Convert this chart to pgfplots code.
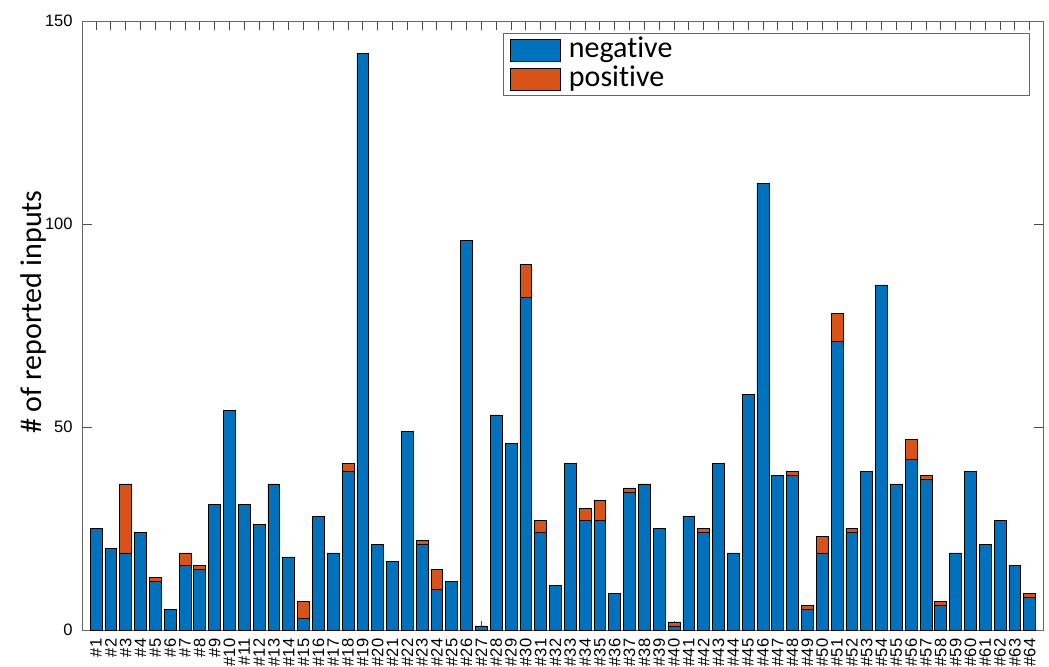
\documentclass[border=0pt]{standalone}
\usepackage{fontspec}
\setmainfont{Liberation Sans}
\newfontfamily\calib[Ligatures=NoCommon]{Carlito}
\usepackage{pgfplots}
\usepackage{pgfplotstable}
\pgfplotsset{compat=1.18}
\definecolor{mblue}{rgb}{0,0.447,0.741}
\definecolor{morange}{rgb}{0.85,0.325,0.098}

\pgfplotstableread{
x neg pos
1 25 0
2 20 0
3 19 17
4 24 0
5 12 1
6 5 0
7 16 3
8 15 1
9 31 0
10 54 0
11 31 0
12 26 0
13 36 0
14 18 0
15 3 4
16 28 0
17 19 0
18 39 2
19 142 0
20 21 0
21 17 0
22 49 0
23 21 1
24 10 5
25 12 0
26 96 0
27 1 0
28 53 0
29 46 0
30 82 8
31 24 3
32 11 0
33 41 0
34 27 3
35 27 5
36 9 0
37 34 1
38 36 0
39 25 0
40 1 1
41 28 0
42 24 1
43 41 0
44 19 0
45 58 0
46 110 0
47 38 0
48 38 1
49 5 1
50 19 4
51 71 7
52 24 1
53 39 0
54 85 0
55 36 0
56 42 5
57 37 1
58 6 1
59 19 0
60 39 0
61 21 0
62 27 0
63 16 0
64 8 1
}\datatable

\begin{document}
\begin{tikzpicture}
\begin{axis}[
  at={(0,0)}, anchor=south west,
  scale only axis, width=720.2pt, height=456.75pt,
  ybar stacked, bar width=0.8,
  xmin=0.1, xmax=64.9, ymin=0, ymax=150,
  xtick={1,...,64},
  xticklabels={\#1,\#2,\#3,\#4,\#5,\#6,\#7,\#8,\#9,\#10,\#11,\#12,\#13,\#14,\#15,\#16,\#17,\#18,\#19,\#20,\#21,\#22,\#23,\#24,\#25,\#26,\#27,\#28,\#29,\#30,\#31,\#32,\#33,\#34,\#35,\#36,\#37,\#38,\#39,\#40,\#41,\#42,\#43,\#44,\#45,\#46,\#47,\#48,\#49,\#50,\#51,\#52,\#53,\#54,\#55,\#56,\#57,\#58,\#59,\#60,\#61,\#62,\#63,\#64},
  ytick={0,50,100,150},
  tick align=inside, major tick length=7pt,
  tick style={black!70, line width=0.6pt},
  axis line style={black!60, line width=0.6pt},
  /pgf/number format/assume math mode=true,
  ticklabel style={font=\fontsize{12.4}{13}\selectfont},
  x tick label style={rotate=90, anchor=east},
  xticklabel shift=3pt,
  yticklabel shift=4pt,
  ylabel={\# of reported inputs},
  ylabel style={font=\calib\fontsize{22.5}{24}\selectfont, at={(axis description cs:-0.0372,0.522)}, anchor=south, inner sep=0pt},
  legend cell align=left,
  legend style={at={(rel axis cs:0.9865,0.9803)}, anchor=north east,
    draw=black!60, line width=0.6pt,
    font=\calib\fontsize{22.5}{24}\selectfont,
    inner xsep=4.5pt, inner ysep=2.9pt, row sep=2.75pt,
    nodes={inner sep=0pt, text height=15pt, text depth=4pt}},
  legend image code/.code={\draw[#1, line width=0.5pt] (0pt,-8.25pt) rectangle (38pt,8.25pt);},
]
\addplot[fill=mblue, draw=black, line width=0.5pt] table[x=x, y=neg] {\datatable};
\addlegendentry{\hspace*{6pt}\makebox[341pt][l]{negative}}
\addplot[fill=morange, draw=black, line width=0.5pt] table[x=x, y=pos] {\datatable};
\addlegendentry{\hspace*{6pt}\makebox[341pt][l]{positive}}
\node[font=\calib\fontsize{22.5}{24}\selectfont, inner sep=0pt] at (rel axis cs:0.975,0.941) {.};
\end{axis}
\pgfresetboundingbox
\path[use as bounding box] (-62pt,-27pt) rectangle (724.7pt,472.5pt);
\end{tikzpicture}
\end{document}
